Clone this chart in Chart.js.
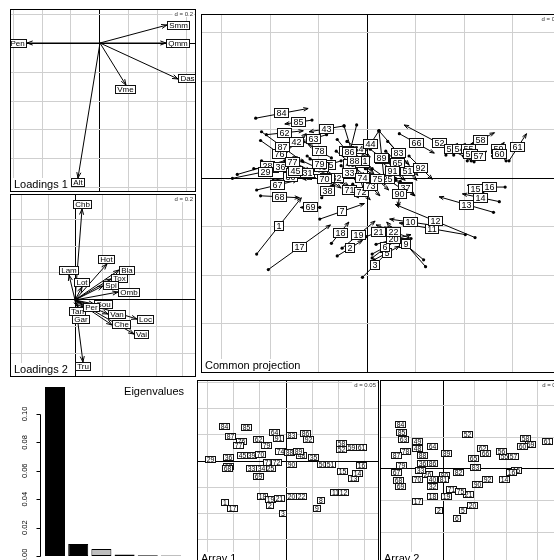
<!DOCTYPE html>
<html>
<head>
<meta charset="utf-8">
<script src="https://cdn.jsdelivr.net/npm/chart.js@4.4.1/dist/chart.umd.min.js"></script>
<style>
html, body { margin: 0; padding: 0; background: #fff; overflow: hidden; }
#wrap { position: relative; width: 554px; height: 560px; overflow: hidden; background: #fff; }
canvas { position: absolute; }
</style>
</head>
<body>
<div id="wrap">
  <canvas id="load1"></canvas>
  <canvas id="load2"></canvas>
  <canvas id="common"></canvas>
  <canvas id="eig"></canvas>
  <canvas id="arr1"></canvas>
  <canvas id="arr2"></canvas>
</div>
<script>
const FONT = "'Liberation Sans', Arial, Helvetica, sans-serif";

// loadings of the first table
const load1Names = ["Alt", "Pen", "Das", "Smm", "Qmm", "Vme"];
const load1X = [-0.152, -0.503, 0.538, 0.462, 0.455, 0.179];
const load1Y = [-0.931, 0.000, -0.248, 0.124, 0.000, -0.290];

// loadings of the second table
const load2Names = ["Chb", "Hot", "Lam", "Lot", "Bla", "Tox", "Spi", "Omb", "Sou", "Tan", "Per", "Gar", "Van", "Loc", "Che", "Vai", "Tru"];
const load2X = [0.052, 0.237, -0.044, 0.052, 0.326, 0.267, 0.207, 0.319, 0.141, 0.022, 0.059, 0.044, 0.244, 0.459, 0.274, 0.437, 0.059];
const load2Y = [0.674, 0.267, 0.185, 0.096, 0.222, 0.156, 0.104, 0.059, -0.030, -0.052, -0.052, -0.111, -0.104, -0.141, -0.185, -0.252, -0.459];

// common projection: start (table 1) and end (table 2) of each site
const cpLabels = [1, 2, 3, 4, 5, 6, 7, 8, 9, 10, 11, 12, 13, 14, 15, 16, 17, 18, 19, 20, 21, 22, 25, 26, 27, 28, 29, 30,
  31, 32, 33, 34, 35, 36, 37, 38, 39, 40, 41, 42, 43, 44, 45, 46, 47, 49, 50, 51, 52, 53, 54, 55, 56, 57, 58, 59, 60,
  61, 62, 63, 64, 65, 66, 67, 68, 69, 70, 71, 72, 73, 74, 75, 76, 77, 78, 79, 80, 81, 82, 83, 84, 85, 86, 87, 88, 89,
  90, 91, 92];
const cpX1 = [-1.14, -0.31, -0.05, 0.05, 0.07, 0.05, -0.49, 0.58, 0.60, 0.65, 1.01, 1.11, 1.30, 1.36, 1.19, 1.42, -1.02,
  -0.37, -0.26, 0.09, -0.01, 0.45, 0.05, -1.17, 0.29, -1.34, -1.39, -0.97,
  -0.71, -0.45, -0.27, -0.21, -0.27, -1.09, 0.29, -0.47, -0.67, -0.37, -0.95, -0.83, -0.24, 0.12, -0.85, -0.62, -0.55,
  -0.32, -0.17, 0.31, 1.10, 0.81, 0.89, 0.99, 1.03, 1.07, 1.03, 1.29, 1.43,
  1.46, -1.04, -0.42, -0.31, 0.19, 0.33, -1.14, -1.10, -0.49, -0.55, -0.27, -0.15, -0.07, -0.17, -0.02, -1.10, -0.95,
  -0.37, -0.59, 0.03, -0.15, 0.21, 0.12, -1.15, -0.57, -0.11, -1.09, -0.24, 0.12,
  0.34, 0.13, 0.43];
const cpY1 = [-0.78, -0.80, -1.02, -0.82, -0.84, -0.78, -0.42, -0.84, -0.91, -0.48, -0.58, -0.61, -0.35, -0.24, -0.15,
  -0.09, -0.94, -0.67, -0.72, -0.68, -0.60, -0.62, 0.10, 0.10, 0.00, 0.04, 0.00, -0.02,
  0.10, 0.08, 0.13, 0.38, 0.18, 0.18, -0.02, -0.20, 0.18, 0.16, 0.13, 0.28, 0.54, 0.49, 0.18, 0.23, 0.10,
  0.28, 0.28, 0.18, 0.17, 0.24, 0.24, 0.23, 0.18, 0.18, 0.33, 0.23, 0.18,
  0.18, 0.45, 0.45, 0.40, 0.28, 0.46, -0.12, -0.18, -0.30, 0.06, -0.04, -0.06, 0.02, 0.10, 0.10, 0.39, 0.26,
  0.21, 0.20, 0.30, 0.28, 0.38, 0.49, 0.62, 0.60, 0.55, 0.48, 0.54, 0.49,
  -0.03, 0.18, 0.23];
const cpX2 = [-0.68, -0.05, 0.21, 0.31, 0.33, 0.31, -0.03, 0.18, 0.20, 0.23, 0.33, 0.29, 0.74, 0.98, 1.03, 1.10, -0.38,
  -0.19, 0.08, 0.45, 0.25, 0.09, 0.37, -0.81, 0.49, -0.72, -0.71, -0.61,
  -0.53, -0.19, -0.09, 0.03, -0.53, -0.69, 0.49, -0.35, -0.29, -0.59, -0.57, -0.63, -0.60, -0.06, -0.63, -0.32, -0.27,
  -0.02, 0.07, 0.51, 0.38, 0.93, 1.01, 1.09, 1.09, 1.23, 1.31, 1.41, 1.29,
  1.64, -0.66, -0.68, -0.11, 0.43, 0.69, -0.72, -0.70, -0.69, -0.33, -0.09, 0.03, 0.13, 0.07, 0.22, -0.70, -0.59,
  -0.61, -0.39, 0.29, 0.05, 0.43, 0.52, -0.61, -0.85, -0.25, -0.65, -0.02, 0.18,
  0.32, 0.39, 0.67];
const cpY2 = [-0.20, -0.64, -0.76, -0.62, -0.70, -0.64, -0.26, -0.50, -0.45, -0.42, -0.46, -0.27, -0.19, -0.16, -0.07,
  -0.09, -0.48, -0.45, -0.44, -0.58, -0.50, -0.48, -0.12, 0.12, -0.18, 0.22, 0.14, 0.04,
  0.00, -0.08, -0.03, 0.22, 0.10, 0.06, -0.18, -0.06, 0.00, 0.02, -0.01, 0.46, 0.48, 0.21, -0.02, 0.01, -0.10,
  0.02, 0.04, -0.02, 0.55, 0.36, 0.36, 0.37, 0.32, 0.28, 0.47, 0.37, 0.32,
  0.46, 0.49, 0.37, 0.16, 0.04, 0.26, -0.02, -0.20, -0.30, -0.08, -0.20, -0.22, -0.18, -0.10, -0.12, 0.11, 0.08,
  0.35, 0.10, 0.10, 0.08, 0.14, 0.03, 0.72, 0.56, -0.01, 0.16, -0.18, -0.07,
  -0.29, -0.02, -0.01];

// row scores of the first table
const arr1Labels = [1, 2, 3, 8, 9, 11, 12, 13, 14, 15, 16, 17, 18, 19, 20, 21, 22, 25, 29, 33, 34, 35, 36, 39, 45, 48,
  50, 51, 52, 58, 59, 61, 62, 64, 67, 68, 69, 70, 71, 72, 74, 76, 77, 79, 83, 84, 85, 86, 87, 88, 89, 90, 91, 92];
const arr1X = [-0.116, -0.030, -0.006, 0.067, 0.059, 0.095, 0.110, 0.129, 0.135, 0.108, 0.143, -0.101, -0.044, -0.030,
  0.010, -0.013, 0.029, -0.029, -0.143, -0.065, -0.046, 0.053, -0.110, -0.065, -0.082, 0.030,
  0.070, 0.084, 0.106, 0.105, 0.125, 0.144, -0.053, -0.021, -0.110, -0.112, -0.053, -0.049, -0.034, -0.019, -0.011,
  -0.084, -0.091, -0.038, 0.011, -0.116, -0.076, 0.038, -0.105, 0.006, 0.023, 0.011, -0.015, 0.042];
const arr1Y = [-0.078, -0.084, -0.099, -0.076, -0.091, -0.059, -0.059, -0.034, -0.023, -0.019, -0.008, -0.091, -0.068,
  -0.074, -0.068, -0.072, -0.068, -0.015, 0.002, -0.015, -0.015, 0.006, 0.006, 0.011, 0.011, 0.010,
  -0.006, -0.006, 0.021, 0.034, 0.025, 0.025, 0.040, 0.055, -0.010, -0.015, -0.030, 0.013, -0.002, -0.002, 0.019,
  0.038, 0.030, 0.029, 0.048, 0.065, 0.063, 0.053, 0.046, 0.017, 0.019, -0.006, 0.042, 0.040];

// row scores of the second table
const arr2Labels = [2, 5, 6, 14, 15, 16, 17, 18, 19, 20, 21, 26, 32, 33, 36, 40, 48, 49, 52, 55, 56, 57, 58, 59, 60, 61,
  62, 63, 64, 65, 66, 67, 68, 69, 70, 71, 75, 78, 79, 80, 81, 82, 83, 84, 85, 86, 87, 88, 89, 90, 92];
const arr2X = [-0.006, 0.032, 0.022, 0.098, 0.117, 0.109, -0.041, -0.017, 0.006, 0.047, 0.041, -0.024, -0.017, -0.036,
  -0.032, -0.017, -0.041, -0.041, 0.038, 0.097, 0.092, 0.111, 0.131, 0.139, 0.125, 0.166,
  0.062, -0.063, -0.017, 0.049, 0.068, -0.073, -0.070, -0.068, -0.041, 0.014, 0.027, -0.060, -0.065, 0.003, 0.000,
  0.024, 0.052, -0.068, -0.066, -0.016, -0.073, -0.033, 0.005, 0.054, 0.071];
const arr2Y = [-0.065, -0.066, -0.078, -0.016, -0.003, -0.006, -0.051, -0.044, -0.043, -0.057, -0.040, -0.008, -0.028,
  -0.003, 0.009, -0.016, 0.033, 0.044, 0.055, 0.019, 0.028, 0.019, 0.049, 0.038, 0.035, 0.043,
  0.032, 0.047, 0.035, 0.016, 0.025, -0.005, -0.019, -0.028, -0.016, -0.032, -0.036, 0.027, 0.005, -0.011, -0.017,
  -0.006, 0.003, 0.071, 0.057, 0.008, 0.021, 0.022, 0.025, -0.024, -0.017];

// eigenvalues
const eigLabels = ["1", "2", "3", "4", "5", "6"];
const eigValues = [0.119, 0.0085, 0.005, 0.001, 0.0006, 0.0004];
const eigColors = ["#000000", "#000000", "#bebebe", "#bebebe", "#bebebe", "#bebebe"];
const eigTicks = [0, 0.02, 0.04, 0.06, 0.08, 0.10];
const eigTickLabels = ["0.00", "0.02", "0.04", "0.06", "0.08", "0.10"];

function arrow(ctx, x1, y1, x2, y2, len) {
  const a = Math.atan2(y2 - y1, x2 - x1), s = 0.35;
  ctx.beginPath();
  ctx.moveTo(x1, y1); ctx.lineTo(x2, y2);
  ctx.moveTo(x2 - len * Math.cos(a - s), y2 - len * Math.sin(a - s));
  ctx.lineTo(x2, y2);
  ctx.lineTo(x2 - len * Math.cos(a + s), y2 - len * Math.sin(a + s));
  ctx.stroke();
}

function labelSize(ctx, txt, fs) {
  ctx.font = fs + 'px ' + FONT;
  return [Math.round(ctx.measureText(' ' + txt + ' ').width), Math.round(fs * 1.1)];
}

function box(ctx, txt, cx, cy, fs) {
  const [w, h] = labelSize(ctx, txt, fs);
  const l = Math.round(cx - w / 2), t = Math.round(cy - h / 2);
  ctx.fillStyle = '#fff';
  ctx.fillRect(l, t, w, h);
  ctx.strokeStyle = '#111'; ctx.lineWidth = 1;
  ctx.strokeRect(l + 0.5, t + 0.5, w - 1, h - 1);
  ctx.fillStyle = '#000';
  ctx.textAlign = 'center'; ctx.textBaseline = 'middle';
  ctx.fillText(txt, l + w / 2, t + h / 2 + 0.5);
}

// label pushed outwards from the arrow tip, like ade4 does
function circBox(ctx, txt, tx, ty, ox, oy, fs) {
  const [w, h] = labelSize(ctx, txt, fs);
  const dx = tx - ox, dy = ty - oy;
  let cx = tx, cy = ty;
  if (Math.abs(dx) >= Math.abs(dy)) cx += Math.sign(dx) * w / 2;
  else cy += Math.sign(dy) * h / 2;
  box(ctx, txt, cx, cy, fs);
}

function title(ctx, a, txt) {
  ctx.font = '11px ' + FONT;
  const w = ctx.measureText(txt).width + 6;
  ctx.fillStyle = '#fff';
  ctx.fillRect(a.left + 1, a.bottom - 14, w, 13);
  ctx.fillStyle = '#000';
  ctx.textAlign = 'left'; ctx.textBaseline = 'alphabetic';
  ctx.fillText(txt, a.left + 4, a.bottom - 4);
}

function dLabel(ctx, a, txt) {
  ctx.font = '6px ' + FONT;
  const w = ctx.measureText(txt).width + 3;
  ctx.fillStyle = '#fff';
  ctx.fillRect(a.right - w - 2, a.top + 1, w, 7);
  ctx.fillStyle = '#333';
  ctx.textAlign = 'right'; ctx.textBaseline = 'middle';
  ctx.fillText(txt, a.right - 3, a.top + 5);
}

function place(id, rect) {
  const cv = document.getElementById(id);
  cv.width = rect[2]; cv.height = rect[3];
  cv.style.left = rect[0] + 'px'; cv.style.top = rect[1] + 'px';
  return cv;
}

function makeScatter(id, rect, xr, yr, d, pts, radius, dText, name, draw) {
  const cv = place(id, rect);
  const axis = (lo, hi, horiz) => ({
    type: 'linear', min: lo, max: hi,
    ticks: { display: false },
    border: { display: false },
    grid: {
      drawTicks: false, lineWidth: 1,
      color: c => (c.tick && Math.abs(c.tick.value) < 1e-9) ? '#000' : '#cfcfcf'
    },
    afterBuildTicks: s => {
      const t = [];
      for (let k = Math.ceil(lo / d - 1e-6); k * d <= hi + 1e-9; k++) t.push({ value: k * d });
      s.ticks = t;
    },
    afterFit: s => { if (horiz) s.height = 0; else s.width = 0; }
  });
  return new Chart(cv, {
    type: 'scatter',
    data: { datasets: [{ data: pts, pointRadius: radius, pointBackgroundColor: '#000', pointBorderWidth: 0 }] },
    options: {
      responsive: false, animation: false, events: [],
      layout: { padding: 0 },
      plugins: { legend: { display: false }, tooltip: { enabled: false } },
      scales: { x: axis(xr[0], xr[1], true), y: axis(yr[0], yr[1], false) }
    },
    plugins: [{
      id: 'marks',
      afterDatasetsDraw(chart) {
        const ctx = chart.ctx, a = chart.chartArea;
        const X = v => chart.scales.x.getPixelForValue(v);
        const Y = v => chart.scales.y.getPixelForValue(v);
        ctx.save();
        ctx.beginPath(); ctx.rect(a.left, a.top, a.right - a.left, a.bottom - a.top); ctx.clip();
        ctx.strokeStyle = '#000'; ctx.lineWidth = 1;
        draw(ctx, X, Y);
        dLabel(ctx, a, dText);
        title(ctx, a, name);
        ctx.restore();
        ctx.strokeStyle = '#000'; ctx.lineWidth = 1;
        ctx.strokeRect(a.left + 0.5, a.top + 0.5, a.right - a.left - 1, a.bottom - a.top - 1);
      }
    }]
  });
}

function loadings(names, xs, ys) {
  return (ctx, X, Y) => {
    const ox = X(0), oy = Y(0);
    names.forEach((n, i) => { ctx.strokeStyle = '#000'; arrow(ctx, ox, oy, X(xs[i]), Y(ys[i]), 6); });
    names.forEach((n, i) => circBox(ctx, n, X(xs[i]), Y(ys[i]), ox, oy, 8));
  };
}

function scoreLabels(labels, xs, ys) {
  return (ctx, X, Y) => {
    labels.forEach((n, i) => box(ctx, String(n), X(xs[i]), Y(ys[i]), 6.8));
  };
}

makeScatter('load1', [10, 9, 186, 183], [-0.6207, 0.6621], [-1.0276, 0.2345], 0.2,
  load1X.map((x, i) => ({ x: x, y: load1Y[i] })), 0, 'd = 0.2', 'Loadings 1',
  loadings(load1Names, load1X, load1Y));

makeScatter('load2', [10, 194, 186, 183], [-0.4815, 0.8963], [-0.5704, 0.7852], 0.2,
  load2X.map((x, i) => ({ x: x, y: load2Y[i] })), 0, 'd = 0.2', 'Loadings 2',
  loadings(load2Names, load2X, load2Y));

makeScatter('common', [197, 10, 370, 367], [-1.7137, 2.0161], [-2.0060, 1.6935], 0.5,
  cpX1.map((x, i) => ({ x: x, y: cpY1[i] })), 1.6, 'd = 0.5', 'Common projection',
  (ctx, X, Y) => {
    cpLabels.forEach((n, i) => { ctx.strokeStyle = '#000'; arrow(ctx, X(cpX1[i]), Y(cpY1[i]), X(cpX2[i]), Y(cpY2[i]), 5); });
    cpLabels.forEach((n, i) => box(ctx, String(n), (X(cpX1[i]) + X(cpX2[i])) / 2, (Y(cpY1[i]) + Y(cpY2[i])) / 2, 9));
  });

makeScatter('arr1', [197, 380, 182, 186], [-0.1692, 0.1768], [-0.1996, 0.1540], 0.05,
  arr1X.map((x, i) => ({ x: x, y: arr1Y[i] })), 0, 'd = 0.05', 'Array 1',
  scoreLabels(arr1Labels, arr1X, arr1Y));

makeScatter('arr2', [380, 380, 187, 186], [-0.0997, 0.1962], [-0.1535, 0.1408], 0.05,
  arr2X.map((x, i) => ({ x: x, y: arr2Y[i] })), 0, 'd = 0.05', 'Array 2',
  scoreLabels(arr2Labels, arr2X, arr2Y));

// eigenvalue bar plot
const eigCanvas = place('eig', [0, 378, 195, 182]);
new Chart(eigCanvas, {
  type: 'bar',
  data: {
    labels: eigLabels,
    datasets: [{
      data: eigValues, backgroundColor: eigColors, borderColor: '#000', borderWidth: 1,
      borderSkipped: false, barPercentage: 0.862, categoryPercentage: 1, clip: false
    }]
  },
  options: {
    responsive: false, animation: false, events: [],
    layout: { padding: { left: 43.4, right: 12.4, top: 36, bottom: 4 } },
    plugins: { legend: { display: false }, tooltip: { enabled: false } },
    scales: { x: { display: false }, y: { display: false, min: 0, max: 0.10 } }
  },
  plugins: [{
    id: 'eigAxis',
    afterDraw(chart) {
      const ctx = chart.ctx, y = chart.scales.y, a = chart.chartArea;
      const ax = Math.round(a.left - 3) + 0.5;
      ctx.save();
      ctx.strokeStyle = '#000'; ctx.lineWidth = 1;
      ctx.beginPath();
      ctx.moveTo(ax, Math.round(y.getPixelForValue(eigTicks[0])) + 0.5);
      ctx.lineTo(ax, Math.round(y.getPixelForValue(eigTicks[eigTicks.length - 1])) + 0.5);
      eigTicks.forEach(v => {
        const py = Math.round(y.getPixelForValue(v)) + 0.5;
        ctx.moveTo(ax - 4, py); ctx.lineTo(ax, py);
      });
      ctx.stroke();
      ctx.fillStyle = '#000';
      ctx.font = '7.5px ' + FONT;
      ctx.textAlign = 'center'; ctx.textBaseline = 'middle';
      eigTicks.forEach((v, i) => {
        ctx.save();
        ctx.translate(ax - 16, y.getPixelForValue(v));
        ctx.rotate(-Math.PI / 2);
        ctx.fillText(eigTickLabels[i], 0, 0);
        ctx.restore();
      });
      ctx.font = '11px ' + FONT;
      ctx.textAlign = 'right';
      ctx.fillText('Eigenvalues', 184, 14);
      ctx.restore();
    }
  }]
});
</script>
</body>
</html>
